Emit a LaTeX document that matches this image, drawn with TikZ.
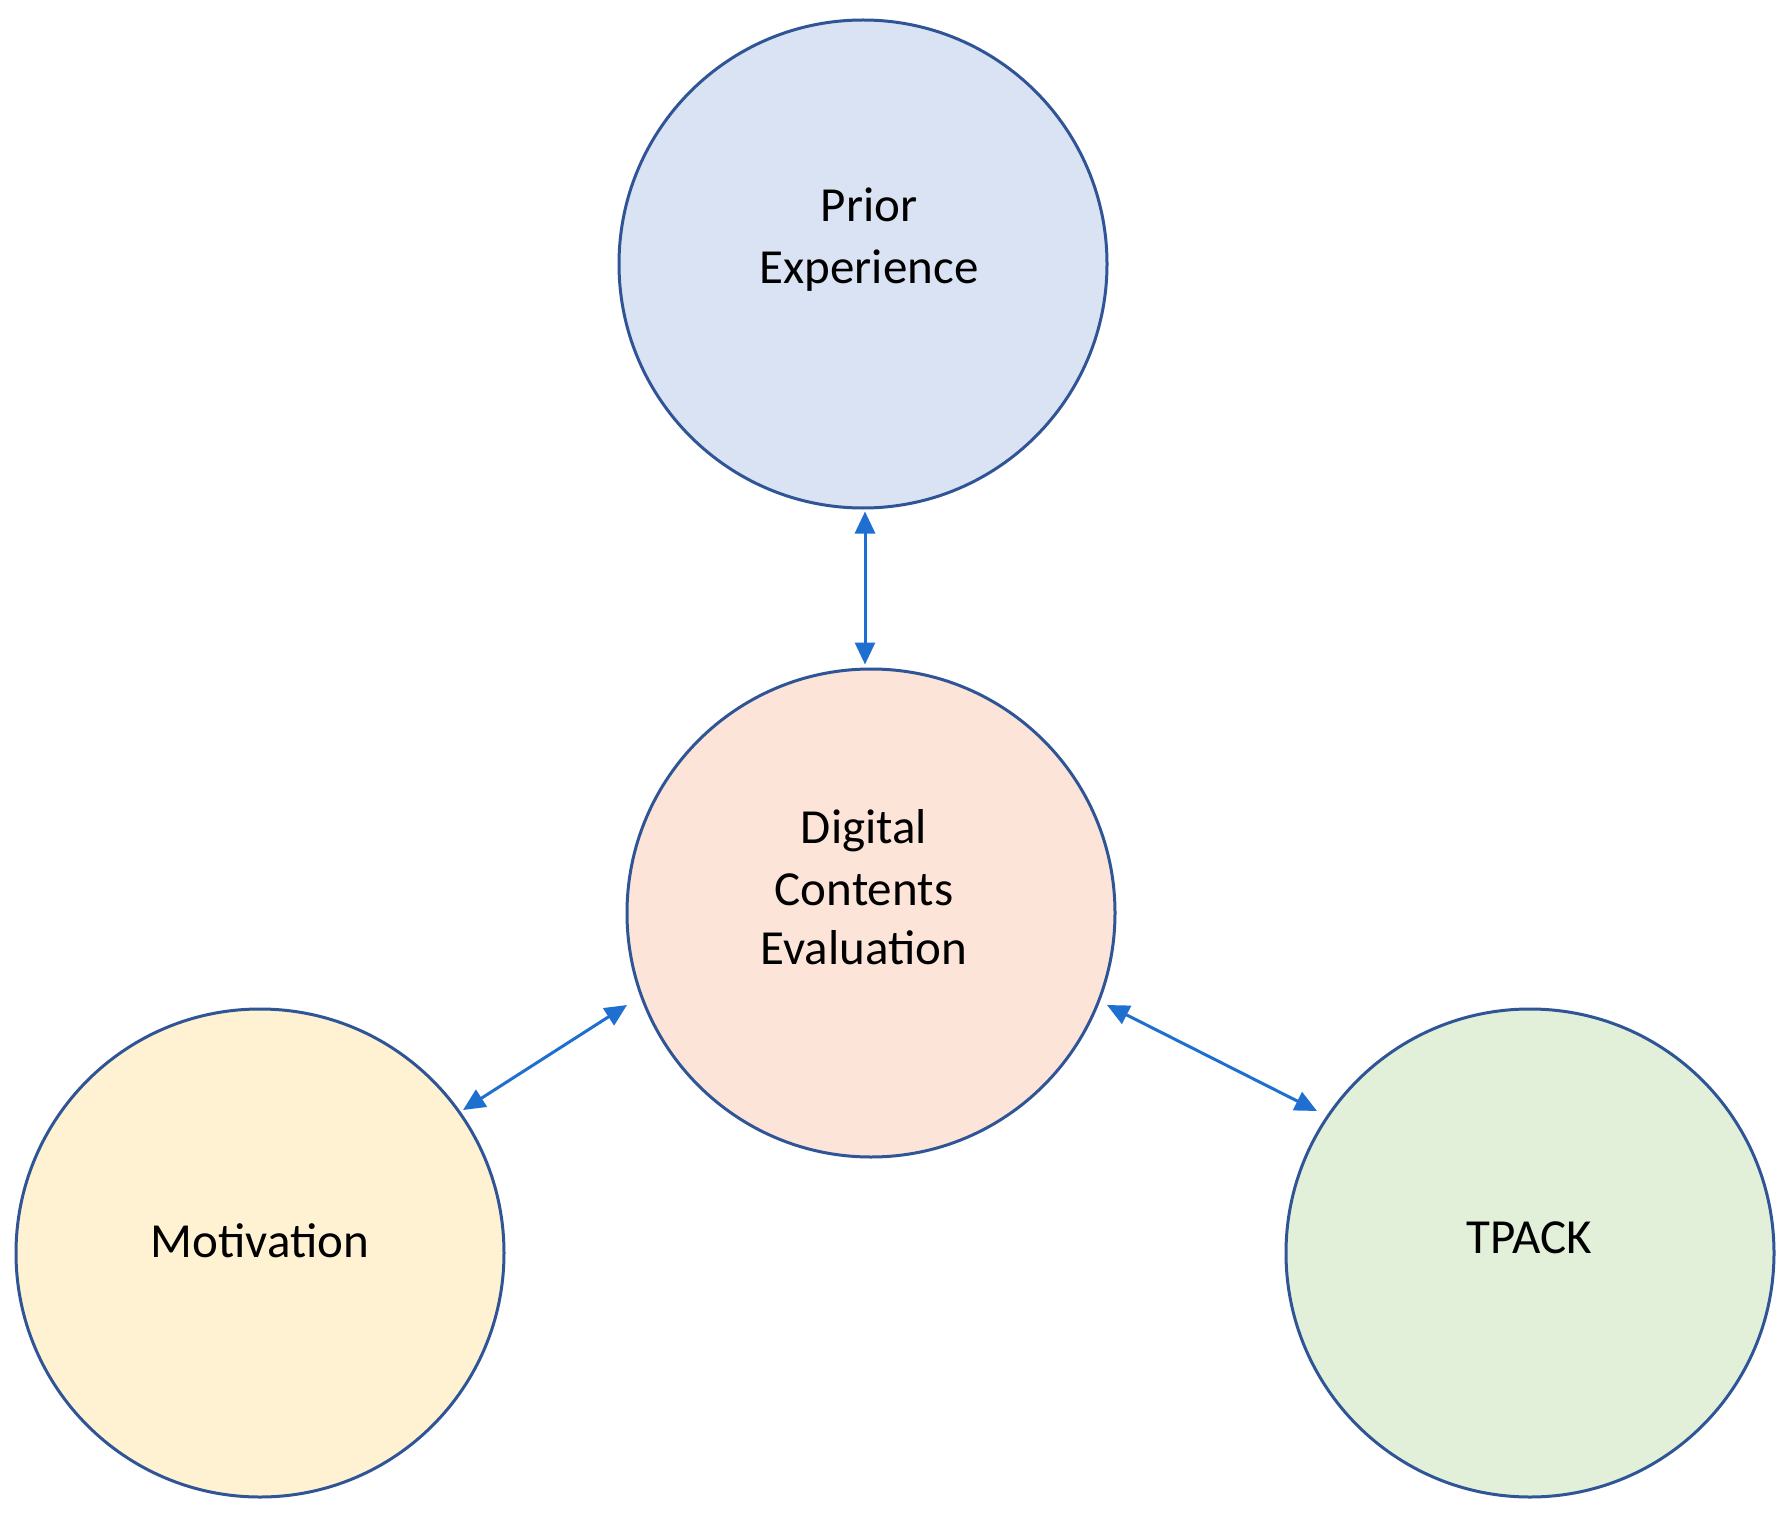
\documentclass[tikz,border=0pt]{standalone}
\usepackage{fontspec}
\setmainfont{Carlito}
\usetikzlibrary{arrows.meta,calc}
\definecolor{outl}{HTML}{2F5597}
\definecolor{arr}{HTML}{1F6FD0}
\definecolor{fpe}{HTML}{DAE3F3}
\definecolor{fdce}{HTML}{FCE5D8}
\definecolor{fmot}{HTML}{FFF2D2}
\definecolor{ftp}{HTML}{E2F0D9}
\tikzset{
  circ/.style={circle, draw=outl, line width=3pt, minimum size=488pt, inner sep=0pt},
  lbl/.style={anchor=base, inner sep=0pt, font=\fontsize{49}{61}\selectfont, text=black},
  conn/.style={draw=arr, line width=3pt, {Triangle[length=22pt,width=20pt]}-{Triangle[length=22pt,width=20pt]}}
}
\begin{document}
\begin{tikzpicture}[x=1pt,y=-1pt]
\useasboundingbox (0,0) rectangle (1792,1522);
\fill[white] (0,0) rectangle (1792,1522);
\node[circ, fill=fpe] (pe) at (863,264) {};
\node[circ, fill=fdce] (dce) at (871,913) {};
\node[circ, fill=fmot] (mot) at (260,1253) {};
\node[circ, fill=ftp] (tp) at (1530,1253) {};
\node[lbl] (pe1) at (869,222) {Prior};
\node[lbl] (pe2) at (869,284) {Experience};
\node[lbl] (dce1) at (864,843) {Digital};
\node[lbl] (dce2) at (864,905) {Contents};
\node[lbl] (dce3) at (864,964) {Evaluation};
\node[lbl] (mot1) at (260,1257) {Motivation};
\node[lbl] (tp1) at (1529,1253) {TPACK};
\draw[conn] ([xshift=2pt,yshift=-2pt]pe.south) -- ([xshift=-6pt,yshift=3pt]dce.north);
\draw[conn] ($(dce.center)+(-244,92)$) -- ($(mot.center)+(203,-143)$);
\draw[conn] ($(dce.center)+(236,92)$) -- ($(tp.center)+(-213,-142)$);
\end{tikzpicture}
\end{document}
